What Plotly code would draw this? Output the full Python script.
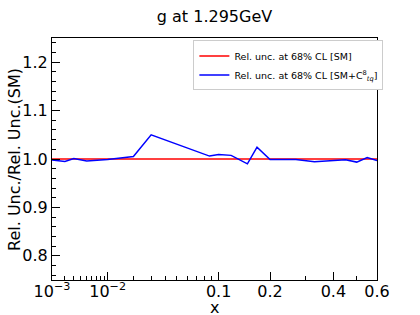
import plotly.graph_objects as go

# ---- data ----
x_vals = [0.001, 0.002, 0.003, 0.005, 0.01, 0.02, 0.03, 0.087, 0.1, 0.12,
          0.15, 0.17, 0.2, 0.27, 0.33, 0.45, 0.5, 0.55, 0.6]
sm_ratio = [1.0] * len(x_vals)
smc_ratio = [0.998, 0.995, 1.001, 0.996, 0.999, 1.005, 1.050, 1.006, 1.0095, 1.0075,
             0.990, 1.0245, 0.999, 0.999, 0.9944, 0.9985, 0.9936, 1.003, 0.997]

major_ticks = [0.001, 0.01, 0.1, 0.2, 0.4, 0.6]
major_labels = ["10<sup>\u22123</sup>", "10<sup>\u22122</sup>", "0.1", "0.2", "0.4", "0.6"]
minor_ticks = [0.002, 0.003, 0.004, 0.005, 0.006, 0.007, 0.008, 0.009,
               0.02, 0.03, 0.04, 0.05, 0.06, 0.07, 0.08, 0.09, 0.3, 0.5]
y_major = [0.8, 0.9, 1.0, 1.1, 1.2]
y_labels = ["0.8", "0.9", "1.0", "1.1", "1.2"]
y_minor = [0.76, 0.78, 0.82, 0.84, 0.86, 0.88, 0.92, 0.94, 0.96, 0.98,
           1.02, 1.04, 1.06, 1.08, 1.12, 1.14, 1.16, 1.18, 1.22, 1.24]

title_text = "g at 1.295GeV"
x_title = "x"
y_title = "Rel. Unc./Rel. Unc.(SM)"
leg_sm = "Rel. unc. at 68% CL [SM]"
leg_smc = "Rel. unc. at 68% CL [SM+C<sup>8</sup><sub><i>tq</i></sub>]"

P = 0.3  # x-axis power scale


def tr(v):
    return [a ** P for a in v]


XR = [0.001 ** P, 0.6 ** P]
YR = [0.75, 1.25]

fig = go.Figure()
fig.add_trace(go.Scatter(x=tr(x_vals), y=sm_ratio, mode="lines",
                         line=dict(color="red", width=1.5), name=leg_sm))
fig.add_trace(go.Scatter(x=tr(x_vals), y=smc_ratio, mode="lines",
                         line=dict(color="blue", width=1.5), name=leg_smc))

font = "DejaVu Sans"
tick_common = dict(ticks="inside", ticklen=8, tickwidth=1, tickcolor="black",
                   showgrid=False, zeroline=False, automargin=False)
minor_common = dict(tickmode="array", ticks="inside", ticklen=4, tickwidth=1,
                    tickcolor="black", showgrid=False)

fig.update_layout(
    xaxis=dict(
        range=XR, tickmode="array", tickvals=tr(major_ticks), ticktext=major_labels,
        minor=dict(tickvals=tr(minor_ticks), **minor_common),
        showline=True, linecolor="black", linewidth=1, mirror=True,
        tickfont=dict(family=font, size=16, color="black"),
        ticklabelstandoff=-3,
        **tick_common,
    ),
    yaxis=dict(
        range=YR, tickmode="array", tickvals=y_major, ticktext=y_labels,
        minor=dict(tickvals=y_minor, **minor_common),
        showline=True, linecolor="black", linewidth=1, mirror=True,
        tickfont=dict(family=font, size=16, color="black"),
        **tick_common,
    ),
    xaxis2=dict(
        range=XR, overlaying="x", side="top", anchor="y",
        tickmode="array", tickvals=tr(major_ticks), showticklabels=False,
        minor=dict(tickvals=tr(minor_ticks), **minor_common),
        showline=False, **tick_common,
    ),
    yaxis2=dict(
        range=YR, overlaying="y", side="right", anchor="x",
        tickmode="array", tickvals=y_major, showticklabels=False,
        minor=dict(tickvals=y_minor, **minor_common),
        showline=False, **tick_common,
    ),
)

fig.add_annotation(text=x_title, xref="paper", yref="paper", x=0.5, y=-0.115,
                   xanchor="center", yanchor="middle", showarrow=False,
                   font=dict(family=font, size=16, color="black"))
fig.add_annotation(text=y_title, xref="paper", yref="paper", x=-0.117, y=0.5,
                   xanchor="center", yanchor="middle", showarrow=False, textangle=-90,
                   font=dict(family=font, size=16, color="black"))

fig.update_layout(
    width=420, height=315,
    margin=dict(l=52, r=43, t=38, b=35),
    paper_bgcolor="white", plot_bgcolor="white",
    title=dict(text=title_text, x=0.5, xanchor="center", xref="paper",
               y=0.966, yanchor="top",
               font=dict(family=font, size=16, color="black")),
    showlegend=True,
    legend=dict(x=0.435, y=0.99, xanchor="left", yanchor="top",
                bgcolor="white", bordercolor="#cccccc", borderwidth=1,
                font=dict(family=font, size=9.5, color="black"),
                itemwidth=30, tracegroupgap=0),
)

fig.write_html("out.html", config={"displayModeBar": False},
               post_script="document.body.style.margin='0';document.body.style.overflow='hidden';")
